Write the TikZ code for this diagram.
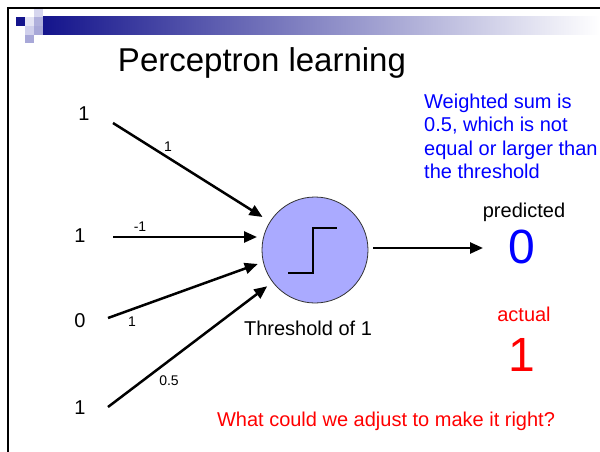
\documentclass[tikz,border=0pt]{standalone}
\usepackage{fontspec}
\setmainfont{Liberation Sans}
\usetikzlibrary{arrows.meta,calc}
\definecolor{navy}{RGB}{20,20,140}
\definecolor{circfill}{RGB}{170,170,255}
\definecolor{sqA}{RGB}{214,214,238}
\definecolor{sqB}{RGB}{228,228,244}
\definecolor{sqC}{RGB}{176,176,220}
\definecolor{sqD}{RGB}{208,208,236}
\definecolor{sqE}{RGB}{168,168,216}
\begin{document}
\begin{tikzpicture}[x=1pt,y=-1pt,
  lbl/.style={font=\fontsize{20}{24}\selectfont, inner sep=0pt},
  wt/.style={font=\fontsize{14}{16}\selectfont, inner sep=0pt},
  big/.style={font=\fontsize{48}{52}\selectfont, inner sep=0pt},
  blu/.style={lbl, text=blue, anchor=base west},
  conn/.style={line width=2.5pt, -{Triangle[length=13pt,width=11pt]}}]
\useasboundingbox (0,0) rectangle (600,452);
\fill[white] (0,0) rectangle (600,452);
% header decoration
\shade[left color=navy, right color=white] (43,17) rectangle (600,35);
\fill[navy] (16,17) rectangle (25,26);
\fill[sqA] (34,9) rectangle (43,17);
\fill[sqB] (25,17) rectangle (34,26);
\fill[sqC] (34,17) rectangle (43,26);
\fill[sqD] (25,26) rectangle (34,35);
\fill[sqE] (34,26) rectangle (43,35);
\fill[sqE] (25,35) rectangle (34,43);
\draw[line width=2pt] (8,452) -- (8,8) -- (600,8);
% title
\node[font=\fontsize{33}{38}\selectfont, inner sep=0pt, anchor=base] (title) at (262,72) {Perceptron learning};
% neuron
\node[circle, draw=black!80, line width=0.8pt, fill=circfill, minimum size=106pt, inner sep=0pt, outer sep=0pt] (circ) at (315,250) {};
\draw[line width=2pt] (288,273) -- (313,273) -- (313,228) -- (337,228);
% inputs
\node[lbl] (in1) at (84,114) {1};
\node[lbl] (in2) at (80,236) {1};
\node[lbl] (in3) at (80,321) {0};
\node[lbl] (in4) at (80,408) {1};
\coordinate (s1) at (113,123);
\coordinate (s2) at (113,237);
\coordinate (s3) at (108,318);
\coordinate (s4) at (108,407);
\draw[conn, shorten >=9pt] (s1) -- (circ);
\draw[conn, shorten >=5pt] (s2) -- (circ.west |- s2);
\draw[conn, shorten >=6pt] (s3) -- (circ.193);
\draw[conn, shorten >=7pt] (s4) -- (circ);
% weights
\node[wt] (w1) at (168,147) {1};
\node[wt] (w2) at (140,227) {-1};
\node[wt] (w3) at (132,322) {1};
\node[wt] (w4) at (169,381) {0.5};
% output
\coordinate (o1) at (373,248);
\coordinate (o2) at (483,248);
\draw[conn] (o1) -- (o2);
\node[lbl, anchor=base] (thr) at (308,335) {Threshold of 1};
\node[lbl, anchor=base] (pred) at (524,217) {predicted};
\node[big, anchor=base, text=blue] (pval) at (522,263) {0};
\node[lbl, anchor=base, text=red] (act) at (524,321) {actual};
\node[big, anchor=base, text=red] (aval) at (522,371) {1};
% note
\node[blu] (n1) at (424,108) {Weighted sum is};
\node[blu] (n2) at (424,131.5) {0.5, which is not};
\node[blu] (n3) at (424,155) {equal or larger than};
\node[blu] (n4) at (424,178.5) {the threshold};
\node[lbl, anchor=base, text=red] (q) at (386,426) {What could we adjust to make it right?};
\end{tikzpicture}
\end{document}
